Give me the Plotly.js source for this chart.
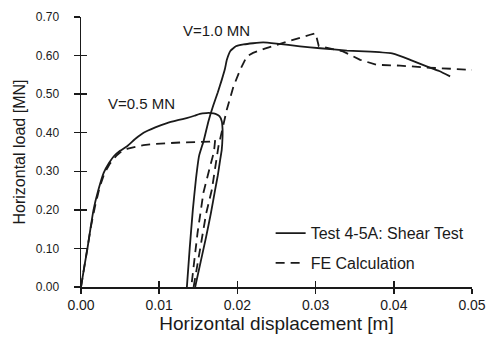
<!DOCTYPE html>
<html>
<head>
<meta charset="utf-8">
<script src="https://cdn.plot.ly/plotly-3.0.1.min.js"></script>
<style>
  html, body { margin: 0; padding: 0; background: #fff; }
  #chart { width: 487px; height: 343px; }
</style>
</head>
<body>
<div id="chart"></div>
<script>
// ---- Data ----
// Test 4-5A: Shear Test (solid) – first loading (V=0.5 MN) and unloading
const testLoad1X = [0, 0.0004, 0.0008, 0.0012, 0.0016, 0.0022, 0.0029, 0.0036, 0.0042, 0.0050, 0.0059, 0.0070, 0.0080, 0.0095, 0.0110, 0.0125, 0.0135, 0.0145, 0.0152, 0.0160, 0.0166, 0.0172, 0.0177, 0.0180, 0.0181, 0.0181, 0.0180, 0.0178, 0.0175, 0.01715, 0.0166, 0.0160, 0.0153, 0.0146];
const testLoad1Y = [0, 0.050, 0.097, 0.150, 0.200, 0.250, 0.296, 0.322, 0.339, 0.353, 0.365, 0.385, 0.400, 0.414, 0.425, 0.433, 0.438, 0.444, 0.449, 0.451, 0.451, 0.449, 0.443, 0.430, 0.410, 0.390, 0.356, 0.330, 0.290, 0.252, 0.190, 0.130, 0.065, 0];
// Test – second loading (V=1.0 MN)
const testLoad2X = [0.01354, 0.0139, 0.0143, 0.0147, 0.0151, 0.0157, 0.0163, 0.0169, 0.0175, 0.0180, 0.0184, 0.01865, 0.0191, 0.0198, 0.0208, 0.0220, 0.0233, 0.0250, 0.0280, 0.0306, 0.0340, 0.0370, 0.0399, 0.0421, 0.0442, 0.0458, 0.0472];
const testLoad2Y = [0, 0.100, 0.200, 0.280, 0.340, 0.380, 0.430, 0.470, 0.505, 0.537, 0.565, 0.589, 0.612, 0.624, 0.629, 0.632, 0.634, 0.631, 0.624, 0.619, 0.613, 0.610, 0.605, 0.589, 0.572, 0.560, 0.546];

// FE Calculation (dashed) – first loading and unloading
const feLoad1X = [0, 0.0004, 0.0008, 0.0013, 0.0018, 0.0024, 0.0030, 0.0037, 0.0045, 0.0052, 0.0060, 0.0070, 0.0080, 0.0095, 0.0110, 0.0130, 0.0150, 0.0165, 0.01716, 0.0170, 0.01651, 0.01566, 0.0149, 0.0141];
const feLoad1Y = [0, 0.050, 0.100, 0.160, 0.210, 0.260, 0.295, 0.320, 0.340, 0.352, 0.359, 0.364, 0.368, 0.371, 0.373, 0.375, 0.376, 0.377, 0.382, 0.350, 0.313, 0.245, 0.140, 0];
// FE – second loading
const feLoad2X = [0.0144, 0.0152, 0.0160, 0.01673, 0.0172, 0.01758, 0.0182, 0.01865, 0.0195, 0.02035, 0.0212, 0.0220, 0.0235, 0.0250, 0.0270, 0.0293, 0.0300, 0.0304, 0.0335, 0.0357, 0.0378, 0.0408, 0.0442, 0.0500];
const feLoad2Y = [0, 0.100, 0.190, 0.252, 0.310, 0.365, 0.420, 0.460, 0.520, 0.563, 0.598, 0.607, 0.618, 0.628, 0.640, 0.654, 0.658, 0.625, 0.611, 0.589, 0.576, 0.574, 0.569, 0.563];

const seriesNames = ["Test 4-5A: Shear Test", "FE Calculation"];
const xTickVals = [0, 0.01, 0.02, 0.03, 0.04, 0.05];
const xTickText = ["0.00", "0.01", "0.02", "0.03", "0.04", "0.05"];
const yTickVals = [0, 0.1, 0.2, 0.3, 0.4, 0.5, 0.6, 0.7];
const yTickText = ["0.00", "0.10", "0.20", "0.30", "0.40", "0.50", "0.60", "0.70"];
const loadLabels = [
  { text: "V=1.0 MN", x: 0.01737, y: 0.665 },
  { text: "V=0.5 MN", x: 0.00768, y: 0.476 }
];

// ---- Build traces (null breaks the line between loading stages) ----
const testX = testLoad1X.concat([null], testLoad2X);
const testY = testLoad1Y.concat([null], testLoad2Y);
const feX = feLoad1X.concat([null], feLoad2X);
const feY = feLoad1Y.concat([null], feLoad2Y);

const FONT = "Liberation Sans, Arial, Helvetica, sans-serif";
const INK = "#1a1a1a";

const traces = [
  { x: testX, y: testY, mode: "lines", name: seriesNames[0], legendgroup: "a",
    connectgaps: false, line: { color: INK, width: 1.8, shape: "spline", smoothing: 0.4 } },
  { x: feX, y: feY, mode: "lines", name: seriesNames[1], legendgroup: "b",
    connectgaps: false, line: { color: INK, width: 1.8, dash: "9px,6px" } },
  // empty helper traces so the overlay tick axes (inward half of crossing ticks) are drawn
  { x: [], y: [], xaxis: "x2", yaxis: "y", showlegend: false, hoverinfo: "skip" },
  { x: [], y: [], xaxis: "x", yaxis: "y2", showlegend: false, hoverinfo: "skip" }
];

const axisCommon = {
  showgrid: false, zeroline: false, showline: true,
  linecolor: INK, linewidth: 1.5, tickcolor: INK, tickwidth: 1.5,
  tickmode: "array"
};

const layout = {
  width: 487, height: 343,
  margin: { l: 81, r: 15, t: 17, b: 56 },
  paper_bgcolor: "#fff", plot_bgcolor: "#fff",
  font: { family: FONT, color: INK, size: 12 },
  showlegend: true,
  legend: {
    x: 0.485, y: 0.262, xanchor: "left", yanchor: "top",
    bgcolor: "rgba(0,0,0,0)", borderwidth: 0,
    font: { family: FONT, size: 16, color: INK },
    traceorder: "grouped", tracegroupgap: 6
  },
  xaxis: Object.assign({}, axisCommon, {
    range: [0, 0.05], tickvals: xTickVals, ticktext: xTickText,
    ticks: "outside", ticklen: 5, tickfont: { family: FONT, size: 14, color: INK },
    title: { text: "Horizontal displacement [m]", font: { family: FONT, size: 19, color: INK }, standoff: 0 }
  }),
  yaxis: Object.assign({}, axisCommon, {
    range: [0, 0.7], tickvals: yTickVals, ticktext: yTickText,
    ticks: "outside", ticklen: 6, ticklabelstandoff: 12, tickfont: { family: FONT, size: 12, color: INK },
    title: { text: "Horizontal load [MN]", font: { family: FONT, size: 16, color: INK }, standoff: 6 }
  }),
  xaxis2: Object.assign({}, axisCommon, {
    overlaying: "x", anchor: "y", side: "bottom", range: [0, 0.05], tickvals: xTickVals,
    ticks: "inside", ticklen: 6, showticklabels: false, showline: false
  }),
  yaxis2: Object.assign({}, axisCommon, {
    overlaying: "y", anchor: "x", side: "left", range: [0, 0.7], tickvals: yTickVals,
    ticks: "inside", ticklen: 6, showticklabels: false, showline: false
  }),
  annotations: loadLabels.map(l => ({
    text: l.text, x: l.x, y: l.y, xref: "x", yref: "y", showarrow: false,
    font: { family: FONT, size: 15, color: INK }
  }))
};

Plotly.newPlot("chart", traces, layout, { displayModeBar: false, staticPlot: true });
</script>
</body>
</html>
